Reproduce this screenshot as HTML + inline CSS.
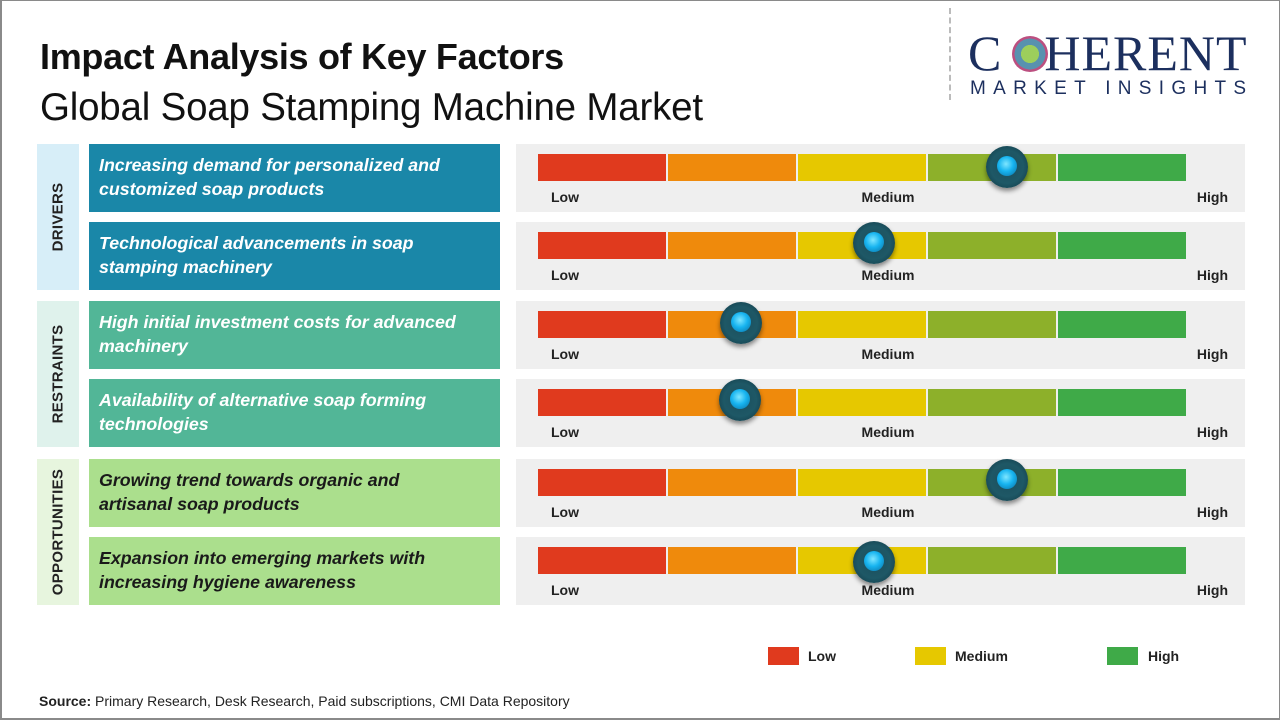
<!DOCTYPE html>
<html><head><meta charset="utf-8"><style>
*{margin:0;padding:0;box-sizing:border-box}
body{width:1280px;height:720px;position:relative;background:#fff;font-family:"Liberation Sans",sans-serif;overflow:hidden}
.frame{position:absolute;left:0;top:0;width:1280px;height:720px;border:2px solid #8a8a8a;border-right-width:1px;border-top-width:1px}
.a{position:absolute}
.t1{left:40px;top:36px;font-size:36px;font-weight:bold;color:#111;letter-spacing:-0.3px}
.t2{left:40px;top:86px;font-size:38.5px;color:#111;letter-spacing:-0.2px}
.strip{left:37px;width:42px}
.strip span{position:absolute;left:50%;top:50%;transform:translate(-50%,-50%) rotate(-90deg);font-weight:bold;font-size:15px;color:#222;white-space:nowrap;letter-spacing:0.3px}
.lab{left:89px;width:411px;height:68px;padding:9px 10px;font-weight:bold;font-style:italic;font-size:17.8px;line-height:24px;white-space:nowrap}
.panel{left:516px;width:729px;height:68px;background:#efefef}
.bar{position:absolute;left:22px;top:10px;height:27px;width:648px;display:flex}
.bar div{flex:1;margin-right:2px}
.bar div:last-child{margin-right:0}
.lo,.me,.hi{position:absolute;top:45px;font-size:14px;font-weight:bold;color:#222}
.lo{left:35px}.me{left:372px;width:0;}
.me span{position:absolute;transform:translateX(-50%);white-space:nowrap}
.hi{right:17px}
.knob{position:absolute;width:42px;height:42px;border-radius:50%;background:radial-gradient(circle at 50% 50%,#1b4e5c 0,#1e5866 55%,#0f3440 100%);box-shadow:0 3px 5px rgba(0,0,0,.45)}
.knob:after{content:"";position:absolute;left:11px;top:10px;width:20px;height:20px;border-radius:50%;background:radial-gradient(circle at 45% 40%,#7fe6ff 0,#17b4f0 45%,#0a6ea0 100%)}
.lg{top:647px;width:31px;height:18px}
.lgt{top:648px;font-size:14px;font-weight:bold;color:#222}
</style></head><body>
<div class="frame"></div>
<div class="a t1">Impact Analysis of Key Factors</div>
<div class="a t2">Global Soap Stamping Machine Market</div>
<div class="a" style="left:949px;top:8px;height:92px;border-left:2px dashed #bbb"></div>
<div class="a" style="left:968px;top:28px;font-family:'Liberation Serif',serif;font-size:50px;color:#1c2f5e;line-height:50px;letter-spacing:1px">C<span style="display:inline-block;width:42px"></span>HERENT</div>
<div class="a" style="left:1012px;top:36px;width:36px;height:36px;border-radius:50%;background:radial-gradient(circle,#8cc63f 0,#8cc63f 35%,#3b7ea1 36%,#3b7ea1 60%,#b0306a 61%,#b0306a 75%,transparent 76%);opacity:.85"></div>
<div class="a" style="left:970px;top:78px;font-size:19px;color:#1c2f5e;letter-spacing:7.3px">MARKET INSIGHTS</div>

<div class="a strip" style="top:144px;height:146px;background:#d7eef8"><span>DRIVERS</span></div>
<div class="a strip" style="top:301px;height:146px;background:#dff2ec"><span>RESTRAINTS</span></div>
<div class="a strip" style="top:459px;height:146px;background:#e7f5de"><span>OPPORTUNITIES</span></div>

<div class="a lab" style="top:144px;background:#1a87a8;color:#fff">Increasing demand for personalized and<br>customized soap products</div>
<div class="a lab" style="top:222px;background:#1a87a8;color:#fff">Technological advancements in soap<br>stamping machinery</div>
<div class="a lab" style="top:301px;background:#52b697;color:#fff">High initial investment costs for advanced<br>machinery</div>
<div class="a lab" style="top:379px;background:#52b697;color:#fff">Availability of alternative soap forming<br>technologies</div>
<div class="a lab" style="top:459px;background:#abdf8d;color:#1a1a1a">Growing trend towards organic and<br>artisanal soap products</div>
<div class="a lab" style="top:537px;background:#abdf8d;color:#1a1a1a">Expansion into emerging markets with<br>increasing hygiene awareness</div>

<div class="a panel" style="top:144px"><div class="bar"><div style="background:#e03a1e"></div><div style="background:#ef8a0c"></div><div style="background:#e6c800"></div><div style="background:#8db02a"></div><div style="background:#3faa48"></div></div><div class="lo">Low</div><div class="me"><span>Medium</span></div><div class="hi">High</div><div class="knob" style="left:470px;top:2px"></div></div>
<div class="a panel" style="top:222px"><div class="bar"><div style="background:#e03a1e"></div><div style="background:#ef8a0c"></div><div style="background:#e6c800"></div><div style="background:#8db02a"></div><div style="background:#3faa48"></div></div><div class="lo">Low</div><div class="me"><span>Medium</span></div><div class="hi">High</div><div class="knob" style="left:337px;top:0px"></div></div>
<div class="a panel" style="top:301px"><div class="bar"><div style="background:#e03a1e"></div><div style="background:#ef8a0c"></div><div style="background:#e6c800"></div><div style="background:#8db02a"></div><div style="background:#3faa48"></div></div><div class="lo">Low</div><div class="me"><span>Medium</span></div><div class="hi">High</div><div class="knob" style="left:204px;top:1px"></div></div>
<div class="a panel" style="top:379px"><div class="bar"><div style="background:#e03a1e"></div><div style="background:#ef8a0c"></div><div style="background:#e6c800"></div><div style="background:#8db02a"></div><div style="background:#3faa48"></div></div><div class="lo">Low</div><div class="me"><span>Medium</span></div><div class="hi">High</div><div class="knob" style="left:203px;top:0px"></div></div>
<div class="a panel" style="top:459px"><div class="bar"><div style="background:#e03a1e"></div><div style="background:#ef8a0c"></div><div style="background:#e6c800"></div><div style="background:#8db02a"></div><div style="background:#3faa48"></div></div><div class="lo">Low</div><div class="me"><span>Medium</span></div><div class="hi">High</div><div class="knob" style="left:470px;top:0px"></div></div>
<div class="a panel" style="top:537px"><div class="bar"><div style="background:#e03a1e"></div><div style="background:#ef8a0c"></div><div style="background:#e6c800"></div><div style="background:#8db02a"></div><div style="background:#3faa48"></div></div><div class="lo">Low</div><div class="me"><span>Medium</span></div><div class="hi">High</div><div class="knob" style="left:337px;top:4px"></div></div>

<div class="a lg" style="left:768px;background:#e03a1e"></div><div class="a lgt" style="left:808px">Low</div>
<div class="a lg" style="left:915px;background:#e6c800"></div><div class="a lgt" style="left:955px">Medium</div>
<div class="a lg" style="left:1107px;background:#3faa48"></div><div class="a lgt" style="left:1148px">High</div>

<div class="a" style="left:39px;top:693px;font-size:14px;color:#222"><b>Source:</b> Primary Research, Desk Research, Paid subscriptions, CMI Data Repository</div>
</body></html>
